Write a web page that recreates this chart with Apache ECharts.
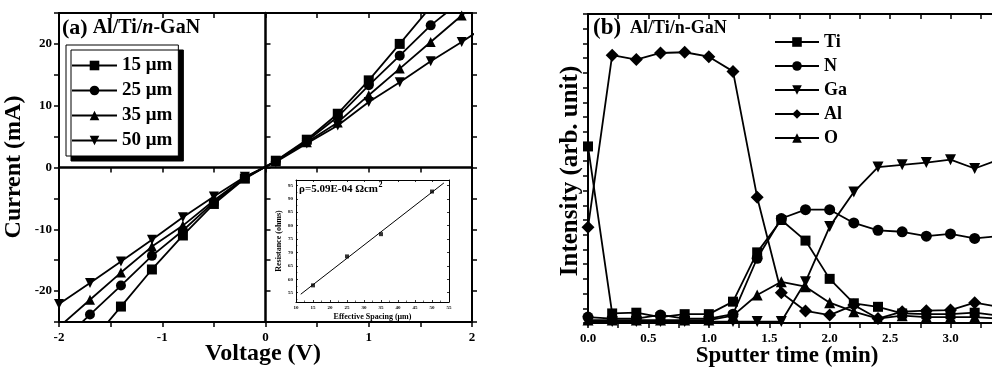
<!DOCTYPE html>
<html><head><meta charset="utf-8">
<script src="https://cdn.jsdelivr.net/npm/echarts@6/dist/echarts.min.js"></script>
<style>html,body{margin:0;padding:0;background:#fff;overflow:hidden;width:992px;height:372px}#c{width:1045px;height:372px}</style>
</head><body><div id="c"></div>
<script>
// ---- Panel (a): I-V curves ----
const ivVoltage = [-2.0,-1.7,-1.4,-1.1,-0.8,-0.5,-0.2,0.1,0.4,0.7,1.0,1.3,1.6,1.9,2.2];
const ivNames = ['15 μm','25 μm','35 μm','50 μm'];
const i15 = [-34.5,-28.5,-22.5,-16.5,-11.0,-5.9,-1.8,1.1,4.5,8.7,14.1,20.0,26.0,32.0,38.0];
const i25 = [-28.6,-23.8,-19.1,-14.3,-10.2,-5.6,-1.7,1.0,4.3,8.2,13.3,18.1,23.0,27.0,32.0];
const i35 = [-25.8,-21.4,-17.0,-12.8,-9.4,-5.35,-1.6,1.0,4.1,7.3,11.7,16.0,20.3,24.6,28.9];
const i50 = [-22.1,-18.7,-15.2,-11.7,-8.05,-4.7,-1.5,0.9,3.9,6.8,10.6,13.8,17.2,20.3,23.6];
// ---- Inset: TLM ----
const tlmSpacing = [15,25,35,50];
const tlmResistance = [57.7,68.5,76.8,92.7];
const tlmFitX = [11.4,53.5];
const tlmFitY = [54.4,95.9];
// ---- Panel (b): depth profile ----
const sputterTime = [0,0.2,0.4,0.6,0.8,1.0,1.2,1.4,1.6,1.8,2.0,2.2,2.4,2.6,2.8,3.0,3.2,3.4];
const elemNames = ['Ti','N','Ga','Al','O'];
const tiI = [12.0,0.65,0.7,0.4,0.6,0.6,1.45,4.8,7.0,5.6,3.0,1.34,1.1,0.65,0.6,0.6,0.7,0.5];
const nI  = [0.4,0.3,0.3,0.55,0.3,0.3,0.6,4.4,7.1,7.7,7.7,6.8,6.3,6.2,5.9,6.05,5.75,5.9];
const gaI = [0.1,0.1,0.1,0.1,0.1,0.1,0.1,0.1,0.1,2.8,6.55,8.9,10.6,10.75,10.9,11.1,10.5,11.1];
const alI = [6.5,18.2,17.9,18.35,18.4,18.1,17.1,8.55,2.05,0.82,0.54,1.22,0.3,0.77,0.84,0.88,1.38,1.1];
const oI  = [0.2,0.2,0.2,0.2,0.2,0.2,0.5,1.9,2.8,2.47,1.38,0.77,0.3,0.5,0.4,0.4,0.4,0.3];

const F = 'Liberation Serif';
const BLACK = '#000';
const zip = (xs, ys) => xs.map((x, i) => [x, ys[i]]);
const near = (v, m) => Math.abs(v / m - Math.round(v / m)) < 1e-6;

function axBase(o) {
  return Object.assign({
    type: 'value',
    splitLine: {show: false},
    axisLine: {onZero: false, lineStyle: {color: BLACK, width: 2}},
    axisTick: {show: true, inside: false, length: 5, lineStyle: {color: BLACK, width: 1.5}},
    axisLabel: {show: false},
  }, o);
}
const lblStyle = {color: BLACK, fontFamily: F, fontWeight: 'bold', fontSize: 13};

// measure inset formula text to place the superscript
const mctx = document.createElement('canvas').getContext('2d');
mctx.font = 'bold 11px "Liberation Serif"';
const rhoText = 'ρ=5.09E-04 Ωcm';
const rhoW = mctx.measureText(rhoText).width;

const chart = echarts.init(document.getElementById('c'), null, {renderer: 'canvas'});

const ivSets = [i15, i25, i35, i50];
const ivSym = ['rect', 'circle', 'triangle', 'triangle'];
const ivRot = [0, 0, 0, 180];
const elemSets = [tiI, nI, gaI, alI, oI];
const elemSym = ['rect', 'circle', 'triangle', 'diamond', 'triangle'];
const elemRot = [0, 0, 180, 0, 0];
const elemSize = [10, 11, 11, 13, 11];

const series = [];
ivSets.forEach((d, k) => series.push({
  type: 'line', name: ivNames[k], xAxisIndex: 0, yAxisIndex: 0,
  data: zip(ivVoltage, d), symbol: ivSym[k], symbolRotate: ivRot[k], symbolSize: 10,
  lineStyle: {color: BLACK, width: 1.8}, itemStyle: {color: BLACK}, clip: true, z: 5
}));
series.push({
  type: 'line', xAxisIndex: 3, yAxisIndex: 3, data: zip(tlmFitX, tlmFitY),
  symbol: 'none', lineStyle: {color: BLACK, width: 1}, z: 6
});
series.push({
  type: 'scatter', xAxisIndex: 3, yAxisIndex: 3, data: zip(tlmSpacing, tlmResistance),
  symbol: 'rect', symbolSize: 4, itemStyle: {color: BLACK}, z: 7
});
elemSets.forEach((d, k) => series.push({
  type: 'line', name: elemNames[k], xAxisIndex: 5, yAxisIndex: 5,
  data: zip(sputterTime, d), symbol: elemSym[k], symbolRotate: elemRot[k], symbolSize: elemSize[k],
  lineStyle: {color: BLACK, width: 1.8}, itemStyle: {color: BLACK}, clip: true
}));

const option = {
  animation: false,
  backgroundColor: '#fff',
  grid: [
    {left: 59, top: 13, width: 413, height: 309},
    {left: 59, top: 13, width: 413, height: 309},
    {left: 296, top: 180, width: 153, height: 122, show: true, backgroundColor: '#fff', borderWidth: 0, z: 4},
    {left: 588, top: 14, width: 435, height: 309}
  ],
  xAxis: [
    axBase({gridIndex: 0, position: 'bottom', min: -2, max: 2, interval: 0.5,
      axisLabel: Object.assign({show: true, margin: 9, formatter: v => near(v, 1) ? String(Math.round(v)) : ''}, lblStyle)}),
    axBase({gridIndex: 0, position: 'top', min: -2, max: 2, interval: 0.5, axisTick: {inside: true, length: 5, lineStyle: {color: BLACK, width: 1.5}}}),
    axBase({gridIndex: 1, position: 'bottom', min: -2, max: 2, interval: 0.5,
      axisLine: {onZero: true, lineStyle: {color: BLACK, width: 2.5}}}),
    axBase({gridIndex: 2, position: 'bottom', min: 10, max: 55, interval: 5, z: 8,
      axisLine: {onZero: false, lineStyle: {color: BLACK, width: 1}},
      axisTick: {inside: true, length: 2, lineStyle: {color: BLACK, width: 0.8}},
      minorTick: {show: true, splitNumber: 2, length: 1.5, lineStyle: {color: BLACK, width: 0.6}},
      axisLabel: {show: true, margin: 3, fontSize: 5, fontFamily: F, fontWeight: 'bold', color: BLACK},
      name: 'Effective Spacing (μm)', nameLocation: 'middle', nameGap: 11,
      nameTextStyle: {fontSize: 8, fontFamily: F, fontWeight: 'bold', color: BLACK}}),
    axBase({gridIndex: 2, position: 'top', min: 10, max: 55, interval: 5, z: 8,
      axisLine: {onZero: false, lineStyle: {color: BLACK, width: 1}},
      axisTick: {inside: true, length: 2, lineStyle: {color: BLACK, width: 0.8}}}),
    axBase({gridIndex: 3, position: 'bottom', min: 0, max: 3.6, interval: 0.5,
      minorTick: {show: true, splitNumber: 2, length: 5, lineStyle: {color: BLACK, width: 1.5}},
      axisLabel: Object.assign({show: true, margin: 9, formatter: v => near(v, 0.5) ? v.toFixed(1) : ''}, lblStyle)}),
    axBase({gridIndex: 3, position: 'top', min: 0, max: 3.6, interval: 0.5,
      axisTick: {inside: true, length: 5, lineStyle: {color: BLACK, width: 1.5}},
      minorTick: {show: true, splitNumber: 2, length: 5, lineStyle: {color: BLACK, width: 1.5}}})
  ],
  yAxis: [
    axBase({gridIndex: 0, position: 'left', min: -25, max: 25, interval: 5,
      axisLabel: Object.assign({show: true, margin: 7, formatter: v => near(v, 10) ? String(Math.round(v)) : ''}, lblStyle)}),
    axBase({gridIndex: 0, position: 'right', min: -25, max: 25, interval: 5}),
    axBase({gridIndex: 1, position: 'left', min: -25, max: 25, interval: 5,
      axisLine: {onZero: true, lineStyle: {color: BLACK, width: 2.5}},
      axisTick: {inside: true, length: 5, lineStyle: {color: BLACK, width: 1.5}}}),
    axBase({gridIndex: 2, position: 'left', min: 51.5, max: 97, splitNumber: 9, z: 8,
      axisLine: {onZero: false, lineStyle: {color: BLACK, width: 1}},
      axisTick: {inside: true, length: 2, lineStyle: {color: BLACK, width: 0.8}},
      minorTick: {show: true, splitNumber: 2, length: 1.5, lineStyle: {color: BLACK, width: 0.6}},
      axisLabel: {show: true, margin: 3, fontSize: 5, fontFamily: F, fontWeight: 'bold', color: BLACK,
        formatter: v => near(v, 5) ? String(Math.round(v)) : ''},
      name: 'Resistance (ohms)', nameLocation: 'middle', nameGap: 13,
      nameTextStyle: {fontSize: 8, fontFamily: F, fontWeight: 'bold', color: BLACK}}),
    axBase({gridIndex: 2, position: 'right', min: 51.5, max: 97, splitNumber: 9, z: 8,
      axisLine: {onZero: false, lineStyle: {color: BLACK, width: 1}},
      axisTick: {inside: true, length: 2, lineStyle: {color: BLACK, width: 0.8}}}),
    axBase({gridIndex: 3, position: 'left', min: 0, max: 21, interval: 1}),
    axBase({gridIndex: 3, position: 'right', min: 0, max: 21, interval: 1})
  ],
  legend: [
    {data: ivNames, orient: 'vertical', left: 66, top: 45, padding: [11, 6, 6, 5], itemGap: 6,
      itemWidth: 45, itemHeight: 12, selectedMode: false,
      backgroundColor: '#fff', borderColor: BLACK, borderWidth: 1,
      shadowColor: BLACK, shadowBlur: 0, shadowOffsetX: 5, shadowOffsetY: 5,
      textStyle: {fontFamily: F, fontWeight: 'bold', fontSize: 19, color: BLACK}},
    {data: elemNames, orient: 'vertical', left: 774, top: 33, padding: 0, itemGap: 6,
      itemWidth: 44, itemHeight: 12, selectedMode: false,
      textStyle: {fontFamily: F, fontWeight: 'bold', fontSize: 18, color: BLACK}}
  ],
  graphic: [
    {type: 'text', x: 62, y: 28, z: 20, style: {
      text: '{p|(a)}{t| Al/Ti/}{i|n}{t|-GaN}', verticalAlign: 'middle', align: 'left',
      rich: {
        p: {fontFamily: F, fontWeight: 'bold', fontSize: 22, fill: BLACK},
        t: {fontFamily: F, fontWeight: 'bold', fontSize: 20, fill: BLACK},
        i: {fontFamily: F, fontWeight: 'bold', fontStyle: 'italic', fontSize: 20, fill: BLACK}
      }}},
    {type: 'text', x: 593, y: 28, z: 20, style: {
      text: '{p|(b)}{t|  Al/Ti/n-GaN}', verticalAlign: 'middle', align: 'left',
      rich: {
        p: {fontFamily: F, fontWeight: 'bold', fontSize: 23, fill: BLACK},
        t: {fontFamily: F, fontWeight: 'bold', fontSize: 18, fill: BLACK}
      }}},
    {type: 'text', x: 14, y: 167, rotation: Math.PI / 2, z: 20, style: {
      text: 'Current (mA)', fontFamily: F, fontWeight: 'bold', fontSize: 24, fill: BLACK,
      align: 'center', verticalAlign: 'middle'}},
    {type: 'text', x: 263, y: 354, z: 20, style: {
      text: 'Voltage (V)', fontFamily: F, fontWeight: 'bold', fontSize: 24, fill: BLACK,
      align: 'center', verticalAlign: 'middle'}},
    {type: 'text', x: 571, y: 171, rotation: Math.PI / 2, z: 20, style: {
      text: 'Intensity (arb. unit)', fontFamily: F, fontWeight: 'bold', fontSize: 25, fill: BLACK,
      align: 'center', verticalAlign: 'middle'}},
    {type: 'text', x: 787, y: 356, z: 20, style: {
      text: 'Sputter time (min)', fontFamily: F, fontWeight: 'bold', fontSize: 23, fill: BLACK,
      align: 'center', verticalAlign: 'middle'}},
    {type: 'text', x: 299, y: 189, z: 20, style: {
      text: rhoText, fontFamily: F, fontWeight: 'bold', fontSize: 11, fill: BLACK,
      align: 'left', verticalAlign: 'middle'}},
    {type: 'text', x: 299 + rhoW + 0.5, y: 185, z: 20, style: {
      text: '2', fontFamily: F, fontWeight: 'bold', fontSize: 8, fill: BLACK,
      align: 'left', verticalAlign: 'middle'}}
  ],
  series: series
};
chart.setOption(option);
</script>
</body></html>
